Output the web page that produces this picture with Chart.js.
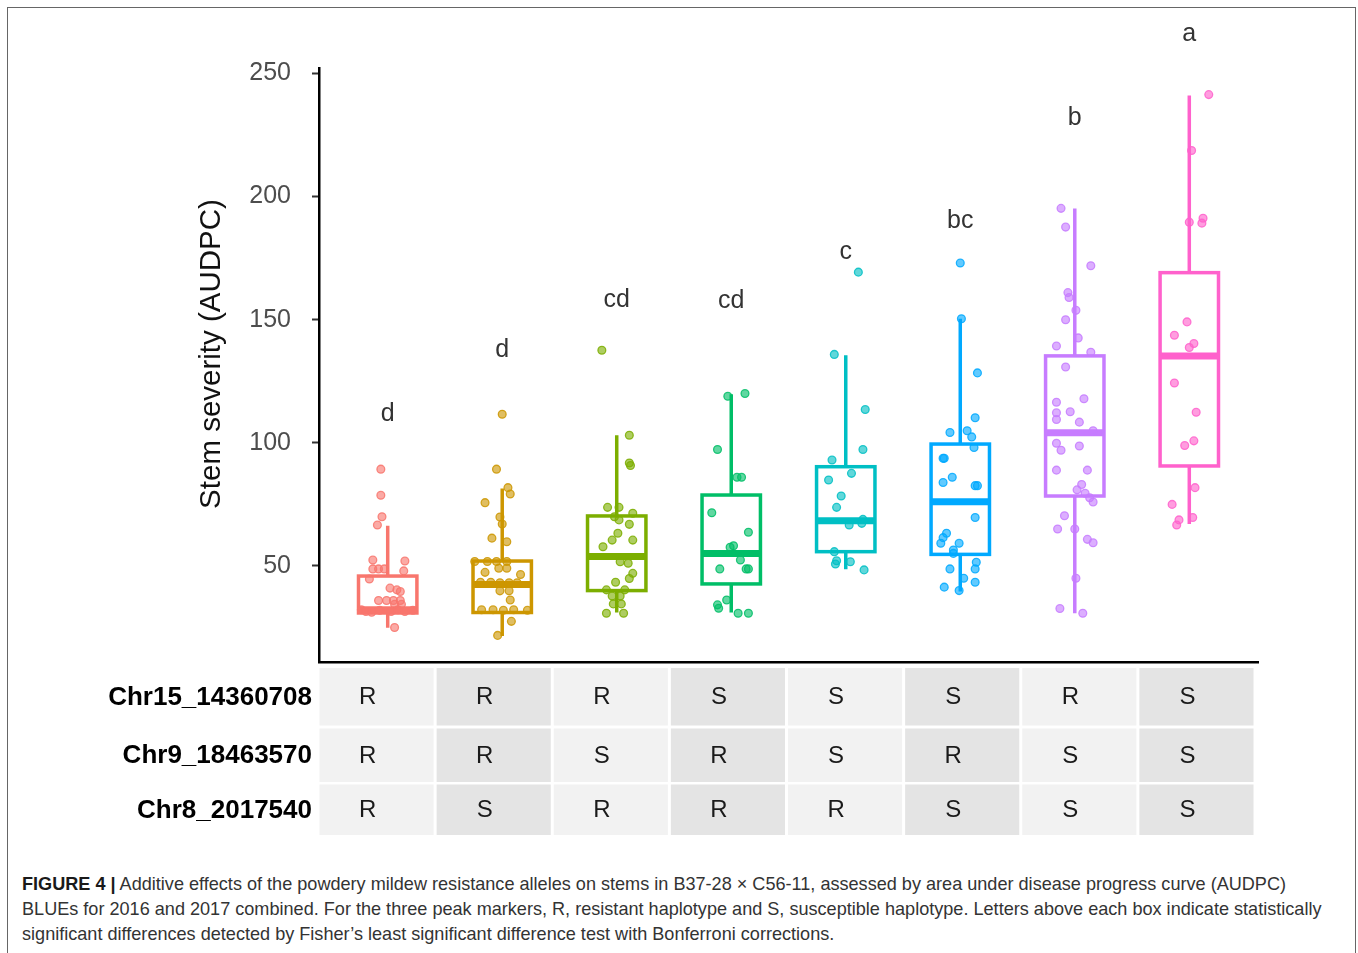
<!DOCTYPE html>
<html>
<head>
<meta charset="utf-8">
<script src="https://cdn.jsdelivr.net/npm/chart.js@4.4.0/dist/chart.umd.min.js"></script>
<style>
body { margin: 0; background: #fff; }
#wrap { position: relative; width: 1358px; height: 953px; overflow: hidden; }
#frame { position: absolute; left: 7px; top: 7px; width: 1347px; height: 1000px;
  border-top: 1.5px solid #666; border-left: 1.5px solid #666; border-right: 1.5px solid #666; }
#chart { position: absolute; left: 0; top: 0; }
#caption { position: absolute; left: 22px; top: 872px; white-space: nowrap;
  font: 18.1px "Liberation Sans", Arial, sans-serif; line-height: 25px; color: #333; }
#caption b { color: #1a1a1a; }
</style>
</head>
<body>
<div id="wrap">
  <div id="frame"></div>
  <canvas id="chart" width="1358" height="850"></canvas>
  <div id="caption"><b>FIGURE 4 |</b> Additive effects of the powdery mildew resistance alleles on stems in B37-28 × C56-11, assessed by area under disease progress curve (AUDPC)<br>BLUEs for 2016 and 2017 combined. For the three peak markers, R, resistant haplotype and S, susceptible haplotype. Letters above each box indicate statistically<br>significant differences detected by Fisher’s least significant difference test with Bonferroni corrections.</div>
</div>
<script>
// haplotype groups (Chr15, Chr9, Chr8)
var categories = ['RRR', 'RRS', 'RSR', 'SRR', 'SSR', 'SRS', 'RSS', 'SSS'];
var colors = ['#F8766D', '#CD9600', '#7CAE00', '#00BE67', '#00BFC4', '#00A9FF', '#C77CFF', '#FF61CC'];

var markerNames = ['Chr15_14360708', 'Chr9_18463570', 'Chr8_2017540'];
var chr15 = ['R', 'R', 'R', 'S', 'S', 'S', 'R', 'S'];
var chr9  = ['R', 'R', 'S', 'R', 'S', 'R', 'S', 'S'];
var chr8  = ['R', 'S', 'R', 'R', 'R', 'S', 'S', 'S'];

var letters = ['d', 'd', 'cd', 'cd', 'c', 'bc', 'b', 'a'];
var letterY = [111.6, 137.6, 157.9, 157.5, 177.3, 189.9, 231.7, 266.1];

var yTicks = [50, 100, 150, 200, 250];
var yTitle = 'Stem severity (AUDPC)';

// box statistics
var whiskerLo = [24.9, 21.6, 31.1, 31.1, 48.7, 39.6, 30.8, 67.0];
var q1        = [30.9, 31.1, 40.0, 42.7, 55.8, 54.7, 78.4, 90.6];
var median    = [32.2, 42.5, 53.8, 55.1, 68.4, 76.1, 104.1, 135.3];
var q3        = [45.9, 52.0, 70.3, 78.8, 90.3, 99.5, 135.3, 169.1];
var whiskerHi = [66.3, 81.5, 103.1, 119.7, 135.6, 150.4, 195.1, 241.0];

// individual BLUEs per group and their jitter
var g1 = [89.3, 78.7, 70.0, 66.6, 52.4, 52.0, 48.8, 48.8, 48.8, 48.0, 44.7, 41.0, 40.3, 39.6, 36.0, 36.0, 36.0, 36.0, 34.4, 34.4, 32.2, 31.5, 31.2, 32.0, 31.5, 32.2, 31.5, 32.0, 25.0];
var j1 = [-0.06, -0.06, -0.05, -0.09, -0.13, 0.15, -0.13, -0.08, -0.03, 0.14, -0.16, 0.02, 0.08, 0.11, -0.08, -0.01, 0.05, 0.11, 0.06, 0.12, -0.23, -0.19, -0.14, -0.07, 0.03, 0.09, 0.15, 0.22, 0.06];
var g2 = [111.6, 89.3, 81.8, 79.2, 75.7, 69.9, 67.0, 61.3, 59.8, 51.8, 51.8, 51.8, 51.8, 47.4, 49.1, 49.1, 46.5, 43.4, 43.4, 43.2, 43.2, 43.2, 39.9, 39.9, 36.2, 32.2, 32.2, 32.0, 32.2, 32.0, 27.5, 21.8];
var j2 = [0.00, -0.05, 0.05, 0.07, -0.15, -0.02, 0.00, -0.09, 0.04, -0.24, -0.13, -0.05, 0.04, -0.15, -0.03, 0.04, 0.16, -0.19, -0.10, -0.02, 0.06, 0.13, -0.02, 0.06, 0.07, -0.18, -0.08, 0.01, 0.10, 0.22, 0.08, -0.04];
var g3 = [137.6, 103.1, 91.8, 90.8, 73.8, 73.8, 71.4, 70.0, 68.7, 66.9, 63.3, 60.5, 57.8, 60.5, 51.7, 51.1, 47.0, 44.9, 43.4, 40.3, 40.3, 37.8, 37.8, 34.6, 34.6, 30.8, 30.8];
var j3 = [-0.13, 0.11, 0.11, 0.12, -0.08, 0.02, 0.14, -0.02, 0.02, 0.11, 0.01, -0.04, -0.12, 0.14, 0.03, 0.10, 0.14, 0.11, -0.01, -0.09, 0.07, -0.04, 0.03, -0.03, 0.04, -0.09, 0.06];
var g4 = [118.9, 120.0, 97.3, 86.0, 86.0, 71.6, 63.7, 57.6, 58.2, 52.4, 48.8, 48.8, 48.8, 36.2, 34.2, 32.8, 30.8, 30.8];
var j4 = [-0.03, 0.12, -0.12, 0.05, 0.09, -0.17, 0.15, -0.01, 0.02, 0.08, -0.10, 0.13, 0.15, -0.04, -0.12, -0.11, 0.06, 0.15];
var g5 = [169.3, 135.9, 113.5, 97.3, 93.0, 87.6, 84.9, 78.4, 73.8, 66.6, 67.3, 68.9, 55.8, 52.1, 50.8, 51.7, 48.4];
var j5 = [0.11, -0.10, 0.17, 0.15, -0.12, 0.05, -0.15, -0.04, -0.08, 0.03, 0.14, 0.15, -0.10, -0.08, -0.09, 0.04, 0.16];
var g6 = [173.0, 150.4, 128.4, 110.2, 104.2, 104.9, 102.4, 98.1, 93.7, 93.7, 86.0, 83.9, 82.6, 82.6, 69.7, 63.3, 61.5, 59.2, 59.2, 56.5, 55.1, 51.5, 48.8, 48.8, 45.0, 43.4, 41.4, 40.0];
var j6 = [0.00, 0.01, 0.15, 0.13, -0.09, 0.06, 0.10, 0.12, -0.15, -0.14, -0.07, -0.15, 0.13, 0.15, 0.13, -0.12, -0.15, -0.17, -0.01, -0.06, -0.06, 0.14, 0.13, -0.09, 0.03, 0.13, -0.14, -0.01];
var g7 = [195.2, 187.6, 171.9, 161.0, 159.0, 153.8, 150.0, 142.6, 139.3, 136.8, 130.8, 116.5, 117.9, 112.2, 109.5, 112.6, 108.4, 104.9, 99.8, 97.0, 98.7, 88.9, 88.9, 83.1, 80.9, 79.5, 77.7, 76.0, 70.4, 65.0, 65.0, 60.8, 59.4, 45.0, 32.7, 30.8];
var j7 = [-0.12, -0.08, 0.14, -0.06, -0.05, 0.01, -0.08, 0.03, -0.16, 0.14, -0.08, -0.16, 0.08, -0.16, -0.16, -0.04, 0.04, 0.16, -0.16, -0.12, 0.04, -0.16, 0.11, 0.06, 0.02, 0.09, 0.13, 0.16, -0.09, -0.15, 0.00, 0.11, 0.16, 0.01, -0.13, 0.07];
var g8 = [241.4, 218.7, 189.6, 191.2, 189.2, 149.1, 143.7, 140.3, 138.7, 124.3, 112.4, 100.8, 98.9, 81.8, 75.0, 68.7, 66.6, 69.7];
var j8 = [0.17, 0.02, 0.00, 0.12, 0.11, -0.02, -0.13, 0.04, 0.00, -0.13, 0.06, 0.04, -0.04, 0.05, -0.15, -0.09, -0.11, 0.03];

var groupValues = [g1, g2, g3, g4, g5, g6, g7, g8];
var groupJitter = [j1, j2, j3, j4, j5, j6, j7, j8];

function rgba(hex, a) {
  var n = parseInt(hex.slice(1), 16);
  return 'rgba(' + (n >> 16) + ',' + ((n >> 8) & 255) + ',' + (n & 255) + ',' + a + ')';
}

var datasets = [];
for (var i = 0; i < categories.length; i++) {
  var pts = [];
  for (var k = 0; k < groupValues[i].length; k++) {
    pts.push({x: i + 1 + groupJitter[i][k], y: groupValues[i][k]});
  }
  datasets.push({
    label: categories[i],
    data: pts,
    pointRadius: 3.9,
    pointBackgroundColor: rgba(colors[i], 0.62),
    pointBorderColor: rgba(colors[i], 0.85),
    pointBorderWidth: 1.3
  });
}

var FONT = '"Liberation Sans", Arial, sans-serif';
Chart.defaults.font.family = FONT;

var boxPlugin = {
  id: 'boxes',
  beforeDatasetsDraw: function(chart) {
    var ctx = chart.ctx, xs = chart.scales.x, ys = chart.scales.y;
    ctx.save();
    for (var i = 0; i < categories.length; i++) {
      var xc = xs.getPixelForValue(i + 1);
      var hw = xs.getPixelForValue(i + 1.255) - xc;
      ctx.strokeStyle = colors[i];
      ctx.lineCap = 'butt';
      ctx.lineWidth = 3.5;
      ctx.beginPath();
      ctx.moveTo(xc, ys.getPixelForValue(q3[i]));
      ctx.lineTo(xc, ys.getPixelForValue(whiskerHi[i]));
      ctx.moveTo(xc, ys.getPixelForValue(q1[i]));
      ctx.lineTo(xc, ys.getPixelForValue(whiskerLo[i]));
      ctx.stroke();
      var top = ys.getPixelForValue(q3[i]), bot = ys.getPixelForValue(q1[i]);
      ctx.strokeRect(xc - hw, top, hw * 2, bot - top);
      ctx.lineWidth = 7;
      ctx.beginPath();
      var ym = ys.getPixelForValue(median[i]);
      ctx.moveTo(xc - hw, ym);
      ctx.lineTo(xc + hw, ym);
      ctx.stroke();
    }
    ctx.restore();
  },
  afterDraw: function(chart) {
    var ctx = chart.ctx, xs = chart.scales.x, ys = chart.scales.y, area = chart.chartArea;
    ctx.save();
    // y axis title
    ctx.save();
    ctx.translate(212, 354);
    ctx.rotate(-Math.PI / 2);
    ctx.fillStyle = '#111';
    ctx.font = '29.5px ' + FONT;
    ctx.textAlign = 'center';
    ctx.textBaseline = 'middle';
    ctx.fillText(yTitle, 0, 0);
    ctx.restore();
    // significance letters
    ctx.fillStyle = '#333';
    ctx.font = '25px ' + FONT;
    ctx.textAlign = 'center';
    ctx.textBaseline = 'middle';
    for (var i = 0; i < letters.length; i++) {
      ctx.fillText(letters[i], xs.getPixelForValue(i + 1), ys.getPixelForValue(letterY[i]));
    }
    // haplotype table
    var rows = [chr15, chr9, chr8];
    var rowTop = [area.bottom + 6, area.bottom + 66.5, area.bottom + 122.5];
    var rowH = [57.5, 53.5, 50.5];
    var left = area.left - 1, cw = (area.right - area.left - 2) / categories.length;
    for (var r = 0; r < rows.length; r++) {
      for (var c = 0; c < categories.length; c++) {
        ctx.fillStyle = c % 2 === 0 ? '#f2f2f2' : '#e4e4e4';
        ctx.fillRect(left + c * cw + 1.5, rowTop[r], cw - 3, rowH[r]);
        ctx.fillStyle = '#1a1a1a';
        ctx.font = '24px ' + FONT;
        ctx.textAlign = 'center';
        ctx.fillText(rows[r][c], left + c * cw + cw / 2 - 9, rowTop[r] + rowH[r] / 2 + 1);
      }
      ctx.fillStyle = '#000';
      ctx.font = 'bold 26px ' + FONT;
      ctx.textAlign = 'right';
      ctx.fillText(markerNames[r], 312, rowTop[r] + rowH[r] / 2 + 1);
    }
    ctx.restore();
  }
};

new Chart(document.getElementById('chart'), {
  type: 'scatter',
  data: {datasets: datasets},
  plugins: [boxPlugin],
  options: {
    responsive: false,
    animation: false,
    devicePixelRatio: 1,
    layout: {padding: {left: 195, top: 68, right: 100, bottom: 188}},
    plugins: {legend: {display: false}, tooltip: {enabled: false}},
    scales: {
      x: {
        type: 'linear', min: 0.4, max: 8.6,
        ticks: {display: false},
        grid: {display: false},
        border: {display: true, color: '#000', width: 2.5},
        afterFit: function(s) { s.height = 0; }
      },
      y: {
        min: 11, max: 252.2,
        afterBuildTicks: function(s) { s.ticks = yTicks.map(function(v) { return {value: v}; }); },
        ticks: {font: {size: 25}, color: '#4d4d4d', padding: 21},
        grid: {drawOnChartArea: false, tickLength: 7, tickWidth: 2, tickColor: '#333'},
        border: {display: true, color: '#000', width: 2.5},
        afterFit: function(s) { s.width = 124; }
      }
    }
  }
});
</script>
</body>
</html>
